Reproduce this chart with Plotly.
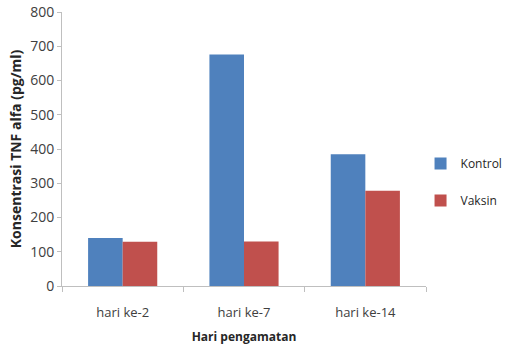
import plotly.graph_objects as go

categories = ["hari ke-2", "hari ke-7", "hari ke-14"]
kontrol = [140, 676, 385]
vaksin = [129, 130, 278]
y_ticks = [0, 100, 200, 300, 400, 500, 600, 700, 800]

FONT = "Open Sans"
AXIS_GRAY = "#bfbfbf"
TEXT_GRAY = "#404040"

fig = go.Figure()
fig.add_trace(go.Bar(x=categories, y=kontrol, name="Kontrol",
                     marker=dict(color="#4F81BD", line=dict(width=0)),
                     legendgroup="k"))
fig.add_trace(go.Bar(x=categories, y=vaksin, name="Vaksin",
                     marker=dict(color="#C0504D", line=dict(width=0)),
                     legendgroup="v"))

fig.update_layout(
    width=505, height=345,
    margin=dict(l=62, r=79, t=12, b=59, autoexpand=False),
    paper_bgcolor="white", plot_bgcolor="white",
    barmode="group", bargap=0.43, bargroupgap=0,
    font=dict(family=FONT, color=TEXT_GRAY),
    showlegend=True,
    legend=dict(x=0.985, y=0.38, xanchor="left", yanchor="middle",
                font=dict(family=FONT, size=12, color="#262626"),
                tracegroupgap=18, itemwidth=30, bgcolor="rgba(0,0,0,0)"),
    xaxis=dict(
        type="category", tickson="boundaries",
        ticks="outside", ticklen=5, tickcolor=AXIS_GRAY,
        showline=True, linecolor=AXIS_GRAY, linewidth=1,
        showgrid=False, ticklabelstandoff=14,
        tickfont=dict(family=FONT, size=13, color=TEXT_GRAY),
        title=dict(text="<b>Hari pengamatan</b>", standoff=14,
                   font=dict(family=FONT, size=12, color="#262626")),
    ),
    yaxis=dict(
        range=[0, 800], tickvals=y_ticks,
        ticks="outside", ticklen=4, tickcolor=AXIS_GRAY,
        showline=True, linecolor=AXIS_GRAY, linewidth=1,
        showgrid=False, zeroline=False,
        tickfont=dict(family=FONT, size=14, color=TEXT_GRAY),
        title=dict(text="<b>Konsentrasi TNF alfa (pg/ml)</b>", standoff=5,
                   font=dict(family=FONT, size=14, color="#262626")),
    ),
)

fig.write_html("out.html")
